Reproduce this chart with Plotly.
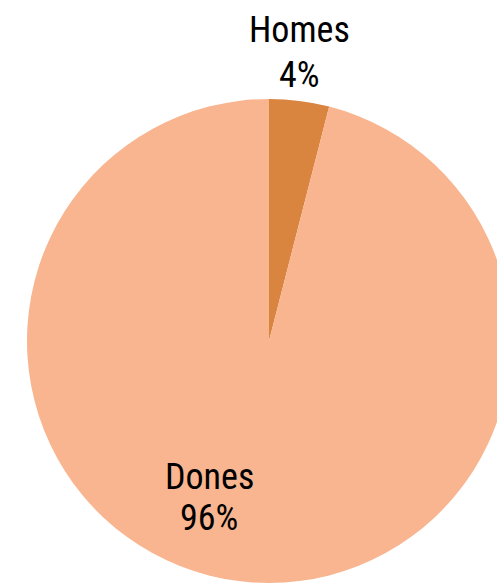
import plotly.graph_objects as go

labels = ["Homes", "Dones"]
values = [4, 96]
colors = ["#D9843F", "#F8B590"]

W, H = 520, 585
cx, cy, r = 269, 341, 242
FONT = "Roboto Condensed, Liberation Sans, sans-serif"
FS = 36

fig = go.Figure(go.Pie(
    labels=labels,
    values=values,
    sort=False,
    direction="clockwise",
    rotation=0,
    marker=dict(colors=colors, line=dict(width=0)),
    textinfo="none",
    hoverinfo="label+percent",
    domain=dict(x=[(cx - r) / W, (cx + r) / W], y=[(H - cy - r) / H, (H - cy + r) / H]),
    showlegend=False,
))

# label positions (pixel centres of the text lines)
label_pos = {"Homes": (299, 30, 75), "Dones": (209, 477, 518)}
total = sum(values)
for lab, val in zip(labels, values):
    x, y1, y2 = label_pos[lab]
    for txt, y in ((lab, y1), (f"{round(100 * val / total)}%", y2)):
        fig.add_annotation(x=x / W, y=1 - y / H, xref="paper", yref="paper",
                           xanchor="center", yanchor="middle", text=txt, showarrow=False,
                           font=dict(family=FONT, size=FS, color="#000000", weight=400))

fig.update_layout(
    width=W, height=H,
    margin=dict(l=0, r=0, t=0, b=0),
    paper_bgcolor="white",
    plot_bgcolor="white",
    showlegend=False,
)

fig.write_html("out.html", config={"displayModeBar": False},
               post_script="document.body.style.margin='0';document.body.style.overflow='hidden';")
